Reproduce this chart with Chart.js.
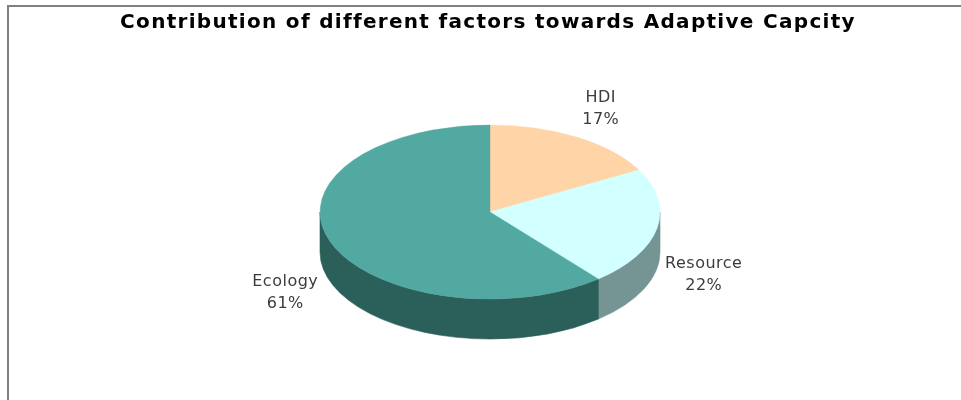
<!DOCTYPE html>
<html>
<head>
<meta charset="utf-8">
<script src="https://cdn.jsdelivr.net/npm/chart.js@4"></script>
<style>
  html, body { margin: 0; padding: 0; background: #fff; }
  #wrap { width: 961px; height: 400px; position: relative; }
</style>
</head>
<body>
<div id="wrap"><canvas id="c" width="961" height="400"></canvas></div>
<script>
// ---- data ----
const categories = ['HDI', 'Resource', 'Ecology'];
const shares = [17, 22, 61];
const topColors = ['#FFD5A8', '#D2FFFF', '#52A9A1'];
const sideColors = ['#B89A78', '#759595', '#2B5F59'];
const chartTitle = 'Contribution of different factors towards Adaptive Capcity';

// ---- 3D look parameters ----
const tilt = 0.512;      // vertical squash of the pie
const depth = 40;        // thickness of the pie
const centerY = 212;     // on-screen centre of the pie top

function toScreen(arc) {
  return { cx: arc.x, cy: centerY, rx: arc.outerRadius, ry: arc.outerRadius * tilt };
}

const pie3d = {
  id: 'pie3d',
  beforeDraw(chart) {
    const ctx = chart.ctx;
    ctx.save();
    ctx.strokeStyle = '#808080';
    ctx.lineWidth = 2;
    ctx.beginPath();
    ctx.moveTo(961, 6);
    ctx.lineTo(8, 6);
    ctx.lineTo(8, 400);
    ctx.stroke();
    ctx.restore();
  },
  beforeDatasetsDraw(chart) {
    const ctx = chart.ctx;
    const meta = chart.getDatasetMeta(0);
    ctx.save();
    meta.data.forEach((arc, i) => {
      const s = toScreen(arc);
      const a0 = Math.max(arc.startAngle, 0);
      const a1 = Math.min(arc.endAngle, Math.PI);
      if (a1 <= a0) return;
      ctx.beginPath();
      ctx.ellipse(s.cx, s.cy, s.rx, s.ry, 0, a0, a1, false);
      ctx.lineTo(s.cx + s.rx * Math.cos(a1), s.cy + depth + s.ry * Math.sin(a1));
      ctx.ellipse(s.cx, s.cy + depth, s.rx, s.ry, 0, a1, a0, true);
      ctx.closePath();
      ctx.fillStyle = sideColors[i];
      ctx.fill();
      ctx.strokeStyle = sideColors[i];
      ctx.lineWidth = 0.6;
      ctx.stroke();
    });
    ctx.restore();
    // squash the pie top
    const a = meta.data[0];
    ctx.save();
    ctx.translate(0, centerY);
    ctx.scale(1, tilt);
    ctx.translate(0, -a.y);
  },
  afterDatasetsDraw(chart) {
    chart.ctx.restore();
  },
  afterDraw(chart) {
    const ctx = chart.ctx;
    const meta = chart.getDatasetMeta(0);
    const total = shares.reduce((p, v) => p + v, 0);
    ctx.save();
    // title
    ctx.fillStyle = '#000';
    ctx.font = 'bold 20px "DejaVu Sans", Verdana, sans-serif';
    ctx.letterSpacing = '1.3px';
    ctx.textAlign = 'center';
    ctx.textBaseline = 'middle';
    ctx.fillText(chartTitle, 488, 23);
    // labels
    ctx.fillStyle = '#3c3c3c';
    ctx.font = '16px "DejaVu Sans", Verdana, sans-serif';
    ctx.letterSpacing = '0.5px';
    meta.data.forEach((arc, i) => {
      const s = toScreen(arc);
      const m = (arc.startAngle + arc.endAngle) / 2;
      const x = s.cx + s.rx * 1.28 * Math.cos(m);
      let y = s.cy + s.ry * 1.38 * Math.sin(m);
      if (Math.sin(m) > 0) y += depth;
      const pct = Math.round(shares[i] / total * 100) + '%';
      ctx.fillText(categories[i], x, y - 11);
      ctx.fillText(pct, x, y + 11);
    });
    ctx.restore();
  }
};

new Chart(document.getElementById('c'), {
  type: 'pie',
  data: {
    labels: categories,
    datasets: [{
      data: shares,
      backgroundColor: topColors,
      borderColor: topColors,
      borderWidth: 0.5
    }]
  },
  options: {
    responsive: false,
    animation: false,
    events: [],
    radius: 170,
    layout: { padding: { left: 19, right: 0, top: 42, bottom: 0 } },
    plugins: {
      legend: { display: false },
      tooltip: { enabled: false },
      title: { display: false }
    }
  },
  plugins: [pie3d]
});
</script>
</body>
</html>
